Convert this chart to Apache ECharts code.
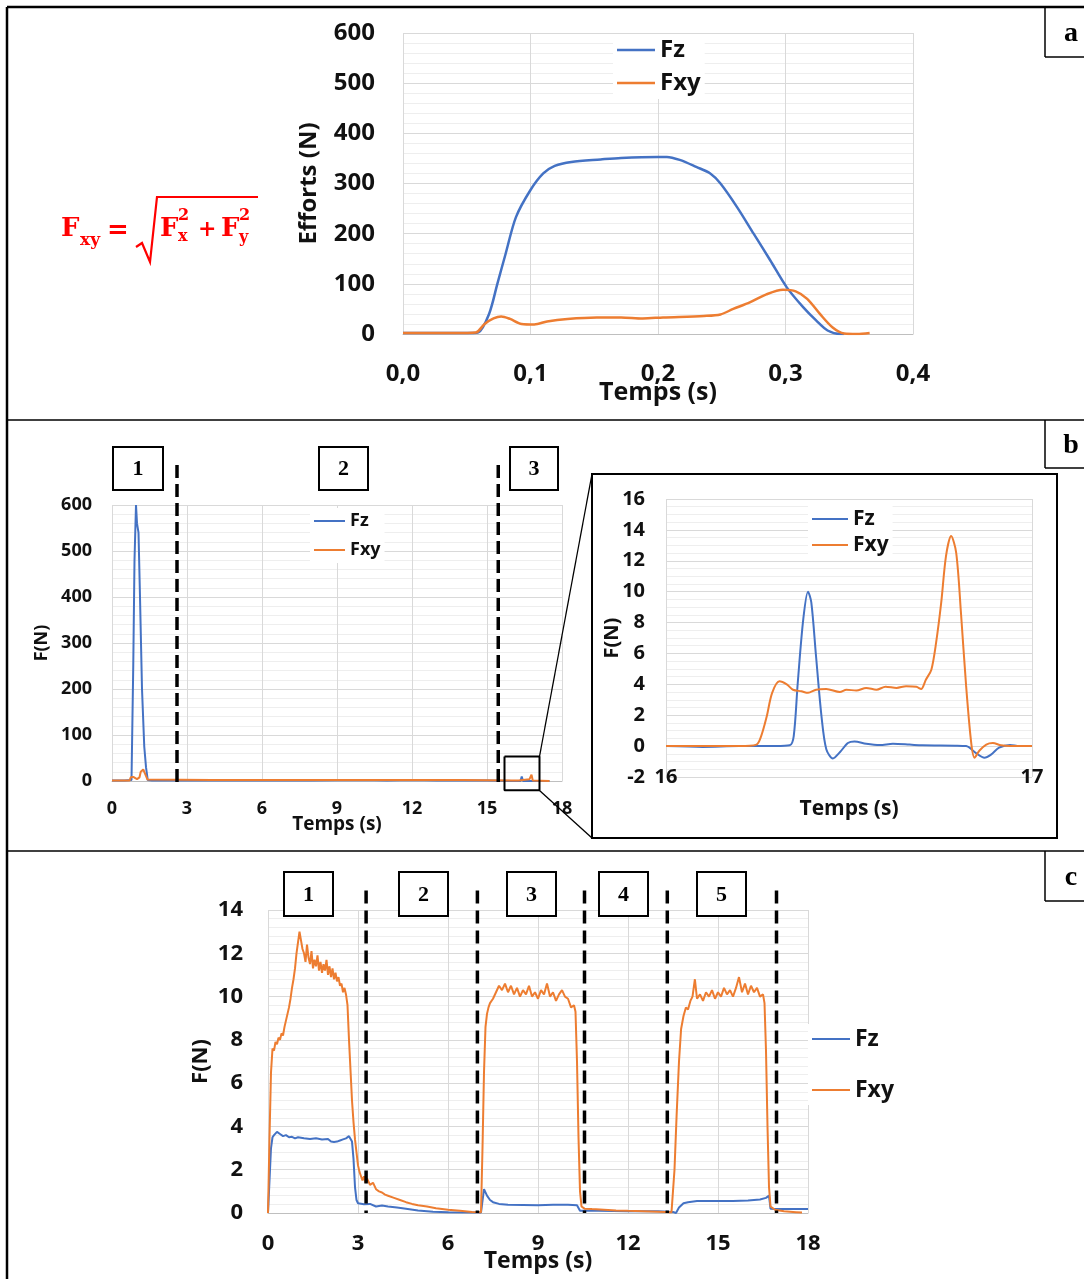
<!DOCTYPE html>
<html><head><meta charset="utf-8">
<script src="https://cdn.jsdelivr.net/npm/echarts@6.0.0/dist/echarts.min.js"></script>
<style>html,body{margin:0;padding:0;background:#fff}#c{width:1084px;height:1279px}</style>
</head><body><div id="c"></div>
<script>
// ---------- DATA ----------
// Panel a : time (s), force (N)
const aFz = [[0,2],[0.02,2],[0.04,2],[0.055,2],[0.059,3],[0.0675,40],[0.074,100],[0.0805,160],[0.0886,233],[0.1,287],[0.11,320],[0.119,335],[0.132,343],[0.155,348],[0.171,351],[0.2,353],[0.207,353],[0.217,347],[0.23,333],[0.241,320],[0.249,300],[0.262,253],[0.275,200],[0.288,147],[0.301,93],[0.314,53],[0.324,27],[0.333,7],[0.343,0],[0.346,0]];
const aFxy = [[0,2],[0.02,2],[0.04,2],[0.057,3],[0.064,20],[0.071,31],[0.077,35],[0.084,30],[0.093,20],[0.103,19],[0.113,25],[0.129,30],[0.152,33],[0.171,33],[0.188,31],[0.204,33],[0.236,36],[0.249,39],[0.259,50],[0.272,63],[0.285,79],[0.298,88],[0.308,85],[0.317,70],[0.327,40],[0.337,13],[0.346,1],[0.356,0],[0.366,2]];

// Panel b (main)
const bFz = [[0,1],[0.5,1],[0.78,2],[0.85,250],[0.9,480],[0.96,600],[1.0,560],[1.06,540],[1.12,400],[1.2,200],[1.29,75],[1.36,30],[1.43,2],[1.6,1],[4,1],[8,1],[10,2],[11,1],[12,2],[13,1],[15,1],[16,0],[16.34,0],[16.39,10],[16.44,0],[16.8,0],[16.87,-1],[16.95,0],[17.5,0]];
const bFxy = [[0,1],[0.7,1],[0.75,8],[0.8,10],[0.85,9],[0.9,5],[1.0,4],[1.1,8],[1.15,20],[1.2,24],[1.25,25],[1.3,22],[1.35,12],[1.42,3],[1.5,2],[4,2],[8,2],[10,2],[12,2],[14,2],[16,1],[16.26,1],[16.3,4],[16.7,4],[16.78,13.6],[16.83,1],[16.9,0],[17.5,0]];
const bCuts = [2.6, 15.45];
const bCutRange = [687, -5];
const bZoomBox = [[15.7,53],[17.1,53],[17.1,-20],[15.7,-20],[15.7,53]];

// Panel b (inset, 16-17 s)
const iFz = [[16.0,0],[16.1,-0.05],[16.2,0],[16.3,0],[16.338,0.05],[16.349,0.65],[16.36,4.1],[16.375,8.2],[16.388,10.0],[16.397,9.3],[16.41,5.8],[16.425,1.9],[16.438,-0.2],[16.456,-0.8],[16.475,-0.4],[16.497,0.2],[16.515,0.3],[16.547,0.15],[16.584,0.07],[16.62,0.15],[16.665,0.1],[16.7,0.05],[16.79,0.03],[16.82,0],[16.847,-0.45],[16.87,-0.75],[16.888,-0.55],[16.91,-0.1],[16.94,0.08],[16.965,0],[17.0,0]];
const iFxy = [[16.0,0],[16.1,0],[16.2,0],[16.247,0.1],[16.26,0.65],[16.275,1.9],[16.29,3.45],[16.31,4.2],[16.33,4.0],[16.347,3.65],[16.37,3.55],[16.388,3.45],[16.41,3.65],[16.438,3.7],[16.475,3.5],[16.493,3.65],[16.52,3.6],[16.547,3.77],[16.575,3.65],[16.6,3.84],[16.63,3.77],[16.656,3.88],[16.684,3.84],[16.697,3.7],[16.71,4.3],[16.725,4.95],[16.738,6.7],[16.752,9.3],[16.765,12.3],[16.779,13.6],[16.793,12.5],[16.806,8.6],[16.82,3.9],[16.834,0.2],[16.843,-0.75],[16.856,-0.3],[16.875,0.1],[16.893,0.2],[16.915,0.05],[16.94,0],[17.0,0]];

// Panel c
const cFz = [[0,0],[0.05,1.5],[0.1,3.0],[0.15,3.5],[0.2,3.6],[0.3,3.75],[0.4,3.65],[0.5,3.55],[0.6,3.6],[0.7,3.5],[0.8,3.52],[0.9,3.45],[1.0,3.5],[1.2,3.45],[1.4,3.42],[1.6,3.45],[1.8,3.4],[2.0,3.42],[2.1,3.3],[2.2,3.28],[2.3,3.3],[2.4,3.35],[2.5,3.4],[2.6,3.45],[2.7,3.55],[2.75,3.5],[2.8,3.3],[2.85,2.5],[2.9,1.2],[2.95,0.6],[3.0,0.45],[3.2,0.4],[3.4,0.42],[3.6,0.3],[3.8,0.35],[4.0,0.3],[4.3,0.25],[4.6,0.2],[5.0,0.12],[5.5,0.06],[6.0,0.03],[7.1,0.02],[7.2,1.1],[7.25,1.15],[7.3,0.8],[7.4,0.6],[7.5,0.5],[7.7,0.42],[8.0,0.38],[8.5,0.37],[9.0,0.36],[9.5,0.38],[10.0,0.38],[10.3,0.36],[10.4,0.1],[10.5,0.1],[11.0,0.1],[12.0,0.08],[13.0,0.08],[13.5,0.05],[13.6,0.0],[13.7,0.25],[13.85,0.45],[14.0,0.5],[14.3,0.55],[15.0,0.55],[15.5,0.56],[16.0,0.58],[16.4,0.62],[16.6,0.7],[16.7,0.8],[16.75,0.2],[16.9,0.18],[17.5,0.18],[18.0,0.18]];
const cFxy = [[0,0],[0.05,3.5],[0.1,6.5],[0.15,7.6],[0.2,7.5],[0.25,7.9],[0.3,7.8],[0.35,8.1],[0.4,8.0],[0.45,8.3],[0.5,8.2],[0.55,8.6],[0.6,8.9],[0.65,9.2],[0.7,9.5],[0.75,9.9],[0.8,10.4],[0.85,10.8],[0.9,11.3],[0.95,12.0],[1.0,12.5],[1.05,13.0],[1.1,12.6],[1.15,12.2],[1.2,12.0],[1.25,11.6],[1.3,12.4],[1.35,11.8],[1.4,11.5],[1.45,12.1],[1.5,11.3],[1.55,11.7],[1.6,11.4],[1.65,11.9],[1.7,11.2],[1.75,11.6],[1.8,11.1],[1.85,11.5],[1.9,11.2],[1.95,11.7],[2.0,11.0],[2.05,11.4],[2.1,10.9],[2.15,11.3],[2.2,10.8],[2.25,11.1],[2.3,10.7],[2.35,10.9],[2.4,10.5],[2.45,10.6],[2.5,10.2],[2.55,10.4],[2.6,10.1],[2.65,9.6],[2.7,8.0],[2.75,6.6],[2.8,5.2],[2.85,4.2],[2.9,3.4],[2.95,2.8],[3.0,2.2],[3.05,1.9],[3.1,1.7],[3.15,1.5],[3.2,1.7],[3.25,1.4],[3.3,1.6],[3.4,1.3],[3.5,1.4],[3.6,1.1],[3.7,1.0],[3.8,0.95],[3.9,0.85],[4.0,0.8],[4.2,0.7],[4.4,0.6],[4.6,0.5],[4.8,0.42],[5.0,0.36],[5.3,0.3],[5.6,0.22],[6.0,0.15],[6.4,0.1],[6.8,0.05],[7.1,0.03],[7.15,3.0],[7.2,6.5],[7.25,8.6],[7.3,9.2],[7.35,9.5],[7.4,9.7],[7.5,9.9],[7.6,10.2],[7.7,10.5],[7.8,10.3],[7.9,10.6],[8.0,10.2],[8.1,10.5],[8.2,10.1],[8.3,10.4],[8.4,10.0],[8.5,10.3],[8.6,10.1],[8.7,10.5],[8.8,10.0],[8.9,10.2],[9.0,9.9],[9.1,10.3],[9.2,10.1],[9.3,10.6],[9.4,10.0],[9.5,10.2],[9.6,9.8],[9.7,10.1],[9.8,10.3],[9.9,10.0],[10.0,9.9],[10.1,9.5],[10.2,9.6],[10.25,9.3],[10.3,7.0],[10.35,3.5],[10.4,1.0],[10.45,0.3],[10.55,0.2],[10.8,0.18],[11.2,0.15],[11.6,0.12],[12.0,0.1],[12.5,0.08],[13.0,0.06],[13.45,0.04],[13.55,2.0],[13.62,4.5],[13.7,7.0],[13.77,8.5],[13.85,9.1],[13.93,9.5],[14.0,9.4],[14.08,9.8],[14.15,10.0],[14.23,10.8],[14.3,9.9],[14.4,10.1],[14.5,9.8],[14.6,10.2],[14.7,10.0],[14.8,10.3],[14.9,9.9],[15.0,10.2],[15.1,10.0],[15.2,10.4],[15.3,10.1],[15.4,10.3],[15.5,10.0],[15.6,10.4],[15.7,10.9],[15.8,10.2],[15.9,10.6],[16.0,10.1],[16.1,10.5],[16.2,10.2],[16.3,10.4],[16.4,10.0],[16.5,10.1],[16.55,9.7],[16.6,7.5],[16.65,4.0],[16.7,1.2],[16.75,0.3],[16.9,0.15],[17.2,0.08],[17.6,0.04],[17.8,0.02]];
const cCuts = [3.27, 6.98, 10.55, 13.31, 16.95];
const cCutRange = [14.9, 0];

const legendNames = ['Fz', 'Fxy'];
const bPhases = ['1', '2', '3'];
const cPhases = ['1', '2', '3', '4', '5'];
const panelLetters = ['a', 'b', 'c'];

// ---------- STYLE ----------
const FONT = 'Open Sans';
const BLUE = '#4472C4', ORANGE = '#ED7D31';
const MAJOR = '#d9d9d9', MINOR = '#eeeeee';
const txt = (s) => ({fontFamily: FONT, fontWeight: 'bold', fontSize: s, color: '#111'});

function xAx(gi, min, max, interval, fs, margin, nameGap, extra) {
  return Object.assign({
    type: 'value', gridIndex: gi, min, max, interval,
    axisLabel: Object.assign(txt(fs), {margin}),
    axisLine: {show: true, onZero: false, lineStyle: {color: '#bfbfbf', width: 1}},
    axisTick: {show: false},
    splitLine: {show: true, lineStyle: {color: MAJOR, width: 1}},
    name: 'Temps (s)', nameLocation: 'middle', nameGap,
    nameTextStyle: txt(fs + 1), nameMoveOverlap: false
  }, extra || {});
}
function yAx(gi, min, max, interval, fs, margin, name, nameGap, minorN) {
  return {
    type: 'value', gridIndex: gi, min, max, interval,
    axisLabel: Object.assign(txt(fs), {margin}),
    axisLine: {show: false}, axisTick: {show: false},
    splitLine: {show: true, lineStyle: {color: MAJOR, width: 1}},
    minorTick: {show: false, splitNumber: minorN},
    minorSplitLine: {show: true, lineStyle: {color: MINOR, width: 1}},
    name, nameLocation: 'middle', nameGap, nameRotate: 90,
    nameTextStyle: txt(fs), nameMoveOverlap: false
  };
}
function line(name, data, idx, color, width, smooth) {
  return {type: 'line', name, data, xAxisIndex: idx, yAxisIndex: idx, symbol: 'none', showSymbol: false,
    smooth: smooth || false, lineStyle: {color, width}, itemStyle: {color}, z: 3, animation: false};
}
function cutLines(cuts, range, idx, width, dash) {
  return cuts.map((t, k) => ({type: 'line', name: 'cut' + idx + '_' + k, data: [[t, range[0]], [t, range[1]]],
    xAxisIndex: idx, yAxisIndex: idx, symbol: 'none', clip: false, silent: true, z: 5, animation: false,
    lineStyle: {color: '#000', width, type: dash}}));
}
function legend(left, top, fs, lh, gap, iw, ih) {
  return {show: true, orient: 'vertical', left, top, data: legendNames, icon: 'rect', itemWidth: iw, itemHeight: ih,
    itemGap: gap, padding: [2, 4], backgroundColor: '#fff', selectedMode: false,
    textStyle: Object.assign(txt(fs), {lineHeight: lh})};
}

// graphic helpers (layout / annotations)
const G = [];
function seg(x1, y1, x2, y2, w) { G.push({type: 'line', shape: {x1, y1, x2, y2}, style: {stroke: '#000', lineWidth: w || 2}, z: 10}); }
function box(x, y, w, h, label, fs) {
  G.push({type: 'rect', shape: {x, y, width: w, height: h}, style: {fill: '#fff', stroke: '#000', lineWidth: 2}, z: 10});
  G.push({type: 'text', x: x + w / 2, y: y + h / 2 + 1, style: {text: label, fontFamily: 'Liberation Serif', fontWeight: 'bold', fontSize: fs, fill: '#000', align: 'center', verticalAlign: 'middle'}, z: 11});
}
function t(x, y, s, size, family, color) {
  G.push({type: 'text', x, y, style: {text: s, fontFamily: family || 'DejaVu Serif', fontWeight: 'bold', fontSize: size, fill: color || '#ff0000', align: 'left', verticalAlign: 'middle'}, z: 11});
}

// frame
seg(7, 7, 1084, 7, 2.5);
seg(7, 7, 7, 1279, 2.5);
seg(7, 420, 1084, 420, 1.5);
seg(7, 851, 1084, 851, 1.5);
// panel letter boxes
[[7, 57], [420, 468], [851, 901]].forEach((r, k) => {
  seg(1045, r[0], 1045, r[1], 1.5);
  seg(1045, r[1], 1084, r[1], 1.5);
  G.push({type: 'text', x: 1071, y: (r[0] + r[1]) / 2 + 2, style: {text: panelLetters[k], fontFamily: 'Liberation Serif', fontWeight: 'bold', fontSize: 28, fill: '#000', align: 'center', verticalAlign: 'middle'}, z: 11});
});
// phase boxes
[[113, 50], [319, 49], [510, 48]].forEach((b, k) => box(b[0], 447, b[1], 43, bPhases[k], 22));
[284, 399, 507, 599, 697].forEach((x, k) => box(x, 872, 49, 44, cPhases[k], 22));
// inset frame & connectors
G.push({type: 'rect', shape: {x: 592, y: 474, width: 465, height: 364}, style: {fill: 'none', stroke: '#000', lineWidth: 2}, z: 10});
seg(539.5, 756.5, 592, 474, 1.3);
seg(539.5, 790.5, 592, 838, 1.3);
// formula  Fxy = sqrt(Fx^2 + Fy^2)
t(61, 229, 'F', 26);
t(80, 241, 'xy', 17);
t(107, 231, '=', 26);
G.push({type: 'polyline', shape: {points: [[136, 247], [142, 243], [150, 262], [157, 197], [258, 197]]}, style: {stroke: '#ff0000', lineWidth: 2.2, fill: 'none'}, z: 11});
t(160, 229, 'F', 26);
t(178, 216, '2', 16);
t(178, 237, 'x', 16);
t(198, 230, '+', 22);
t(221, 229, 'F', 26);
t(239, 216, '2', 16);
t(239, 238, 'y', 16);

const option = {
  backgroundColor: '#fff',
  animation: false,
  grid: [
    {left: 403, top: 33, width: 510, height: 301, outerBoundsMode: 'none', containLabel: false},
    {left: 112, top: 505, width: 450, height: 276, outerBoundsMode: 'none', containLabel: false},
    {left: 666, top: 499, width: 366, height: 278, outerBoundsMode: 'none', containLabel: false},
    {left: 268, top: 910, width: 540, height: 303, outerBoundsMode: 'none', containLabel: false}
  ],
  xAxis: [
    xAx(0, 0, 0.4, 0.1, 24, 28, 46, {axisLabel: Object.assign(txt(24), {margin: 28, formatter: v => v.toFixed(1).replace('.', ',')})}),
    xAx(1, 0, 18, 3, 18, 19, 34),
    xAx(2, 16, 17, 1, 20, -10, 22, {axisLine: {show: false}}),
    xAx(3, 0, 18, 3, 22, 20, 37)
  ],
  yAxis: [
    yAx(0, 0, 600, 100, 24, 28, 'Efforts (N)', 82, 5),
    yAx(1, 0, 600, 100, 18, 20, 'F(N)', 61, 5),
    yAx(2, -2, 16, 2, 20, 21, 'F(N)', 44, 4),
    yAx(3, 0, 14, 2, 22, 25, 'F(N)', 56, 5)
  ],
  legend: [
    legend(613, 34, 24, 28, 5, 38, 2.5),
    legend(310, 508, 18, 22, 7, 31, 2),
    legend(808, 506, 21, 22, 4, 36, 2),
    legend(808, 1024, 23, 26, 25, 38, 2)
  ],
  series: [
    line('Fz', aFz, 0, BLUE, 2.5, 0.3),
    line('Fxy', aFxy, 0, ORANGE, 2.5, 0.3),
    line('Fz', bFz, 1, BLUE, 2),
    line('Fxy', bFxy, 1, ORANGE, 2),
    line('Fz', iFz, 2, BLUE, 2, 0.3),
    line('Fxy', iFxy, 2, ORANGE, 2, 0.3),
    line('Fz', cFz, 3, BLUE, 2),
    line('Fxy', cFxy, 3, ORANGE, 2),
    {type: 'line', name: 'zoomBox', data: bZoomBox, xAxisIndex: 1, yAxisIndex: 1, symbol: 'none', clip: false, silent: true, z: 6,
      lineStyle: {color: '#000', width: 2}, animation: false}
  ].concat(cutLines(bCuts, bCutRange, 1, 3.5, [13, 6]), cutLines(cCuts, cCutRange, 3, 3.5, [13, 7])),
  graphic: G
};
const chart = echarts.init(document.getElementById('c'), null, {renderer: 'canvas'});
chart.setOption(option);
</script>
</body></html>
